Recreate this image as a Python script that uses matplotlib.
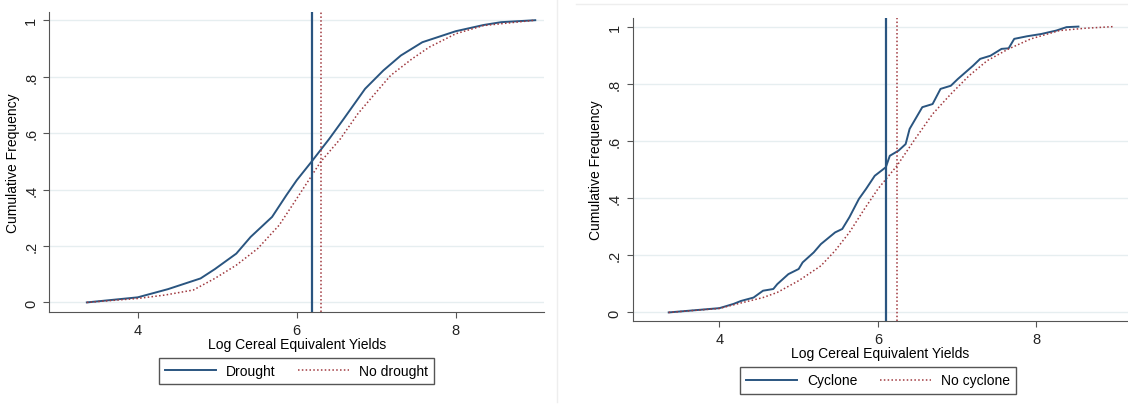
import matplotlib.pyplot as plt
from matplotlib.lines import Line2D

plt.rcParams['font.family'] = ['Liberation Sans', 'DejaVu Sans']

# drought panel
drought_x = [3.36, 4.0, 4.38, 4.79, 4.97, 5.24, 5.42, 5.69, 5.87, 6.0, 6.19, 6.41,
             6.59, 6.86, 7.09, 7.31, 7.58, 8.0, 8.35, 8.57, 9.0]
drought_y = [0.0, 0.018, 0.047, 0.085, 0.118, 0.173, 0.232, 0.303, 0.38, 0.433, 0.5, 0.58,
             0.65, 0.757, 0.822, 0.875, 0.922, 0.961, 0.983, 0.993, 1.0]
nodrought_x = [3.36, 4.0, 4.34, 4.70, 4.97, 5.24, 5.51, 5.78, 6.0, 6.19, 6.30, 6.55,
               6.77, 7.0, 7.18, 7.45, 7.67, 8.0, 8.35, 9.0]
nodrought_y = [0.0, 0.014, 0.026, 0.044, 0.085, 0.132, 0.191, 0.274, 0.368, 0.45, 0.498, 0.58,
               0.669, 0.745, 0.804, 0.863, 0.905, 0.952, 0.981, 1.0]
drought_median = 6.19
nodrought_median = 6.30

# cyclone panel
cyclone_x = [3.36, 4.0, 4.18, 4.27, 4.43, 4.55, 4.68, 4.73, 4.87, 5.0, 5.05, 5.19, 5.28,
             5.46, 5.55, 5.64, 5.76, 5.85, 5.96, 6.10, 6.15, 6.26, 6.35, 6.40, 6.56,
             6.69, 6.79, 6.92, 7.01, 7.20, 7.29, 7.42, 7.56, 7.65, 7.72, 7.88, 8.06,
             8.25, 8.38, 8.53]
cyclone_y = [0.0, 0.015, 0.03, 0.04, 0.052, 0.076, 0.082, 0.099, 0.134, 0.152, 0.175, 0.21,
             0.239, 0.28, 0.292, 0.333, 0.397, 0.432, 0.478, 0.508, 0.548, 0.566, 0.589,
             0.642, 0.718, 0.729, 0.782, 0.793, 0.817, 0.863, 0.887, 0.898, 0.922, 0.924,
             0.957, 0.966, 0.974, 0.986, 0.998, 1.0]
nocyclone_x = [3.36, 4.0, 4.27, 4.55, 4.73, 5.0, 5.28, 5.46, 5.64, 5.83, 6.0, 6.24, 6.47,
               6.69, 6.92, 7.15, 7.38, 7.65, 7.93, 8.29, 8.61, 8.98]
nocyclone_y = [0.0, 0.014, 0.033, 0.052, 0.07, 0.111, 0.163, 0.216, 0.28, 0.362, 0.432,
               0.513, 0.607, 0.694, 0.764, 0.828, 0.881, 0.922, 0.957, 0.986, 0.994, 1.0]
cyclone_median = 6.10
nocyclone_median = 6.24

yticks = [0, 0.2, 0.4, 0.6, 0.8, 1]
ytick_labels = ['0', '.2', '.4', '.6', '.8', '1']
xticks = [4, 6, 8]

blue = '#2a5580'
red = '#a0393f'
W, H = 1128, 406

fig = plt.figure(figsize=(W / 100, H / 100), dpi=100)


def panel(rect, xlim, ylim, x1, y1, x2, y2, m1, m2, labels, legend_center):
    ax = fig.add_axes(rect)
    for yv in yticks:
        ax.axhline(yv, color='#e6eef0', lw=1, zorder=0)
    l1, = ax.plot(x1, y1, color=blue, lw=1.4, label=labels[0])
    l2, = ax.plot(x2, y2, color=red, lw=1.1, ls=(0, (1, 1.5)), label=labels[1])
    ax.axvline(m1, color=blue, lw=1.6)
    ax.axvline(m2, color=red, lw=1.1, ls=(0, (1, 1.5)))
    ax.set_xlim(*xlim)
    ax.set_ylim(*ylim)
    ax.set_xticks(xticks)
    ax.set_yticks(yticks)
    ax.set_yticklabels(ytick_labels, rotation=90, va='center')
    ax.tick_params(labelsize=10.5, length=4, pad=4, color='#555555', labelcolor='#222222')
    for s in ['top', 'right']:
        ax.spines[s].set_visible(False)
    for s in ['left', 'bottom']:
        ax.spines[s].set_color('#555555')
    ax.set_xlabel('Log Cereal Equivalent Yields', fontsize=10, labelpad=0)
    ax.set_ylabel('Cumulative Frequency', fontsize=10, labelpad=3)
    fig.legend(handles=[l1, l2], loc='center', bbox_to_anchor=legend_center,
               ncol=2, fontsize=10, fancybox=False, edgecolor='#555555',
               handlelength=3.7, handletextpad=0.7, columnspacing=1.6,
               borderpad=0.45, framealpha=1)
    return ax


panel([49.3 / W, 1 - 313.3 / H, 494.7 / W, 300 / H], (2.888, 9.11), (-0.035, 1.028),
      drought_x, drought_y, nodrought_x, nodrought_y,
      drought_median, nodrought_median, ['Drought', 'No drought'],
      (296.5 / W, 1 - 372 / H))
panel([632.5 / W, 1 - 322.3 / H, 495.5 / W, 303.3 / H], (2.903, 9.156), (-0.031, 1.03),
      cyclone_x, cyclone_y, nocyclone_x, nocyclone_y,
      cyclone_median, nocyclone_median, ['Cyclone', 'No cyclone'],
      (878 / W, 1 - 381.5 / H))

# faint separators between the two pasted graphs
fig.add_artist(Line2D([557 / W, 557 / W], [1 - 403 / H, 1], color='#eeeeee', lw=1))
fig.add_artist(Line2D([576 / W, 1], [1 - 4.5 / H, 1 - 4.5 / H], color='#eeeeee', lw=1))

fig.savefig('out.png', dpi=100)
